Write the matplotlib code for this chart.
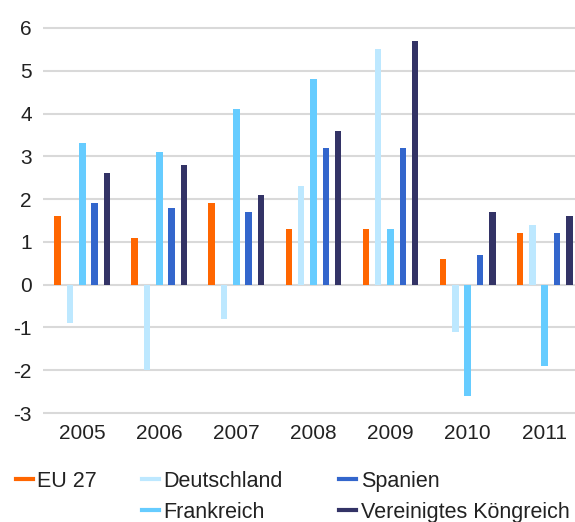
import numpy as np
import matplotlib.pyplot as plt
from matplotlib.lines import Line2D

plt.rcParams['font.family'] = ['Liberation Sans', 'DejaVu Sans']
plt.rcParams['axes.unicode_minus'] = False

years = ['2005', '2006', '2007', '2008', '2009', '2010', '2011']
eu27 = [1.6, 1.1, 1.9, 1.3, 1.3, 0.6, 1.2]
deutschland = [-0.9, -2.0, -0.8, 2.3, 5.5, -1.1, 1.4]
frankreich = [3.3, 3.1, 4.1, 4.8, 1.3, -2.6, -1.9]
spanien = [1.9, 1.8, 1.7, 3.2, 3.2, 0.7, 1.2]
uk = [2.6, 2.8, 2.1, 3.6, 5.7, 1.7, 1.6]

series = [
    ('EU 27', eu27, '#ff6600'),
    ('Deutschland', deutschland, '#bde8ff'),
    ('Frankreich', frankreich, '#66ccff'),
    ('Spanien', spanien, '#3366cc'),
    ('Vereinigtes Köngreich', uk, '#333366'),
]

fig = plt.figure(figsize=(5.75, 5.22), dpi=100)
ax = fig.add_axes([0.0748, 0.2006, 0.93, 0.754])

x = np.arange(len(years))
step = 0.16
width = 0.085
for k, (name, vals, col) in enumerate(series):
    ax.bar(x + (k - 2) * step, vals, width, color=col, zorder=3)

ax.set_xlim(-0.51, 6.43)
ax.set_ylim(-3.1, 6.1)
ax.set_yticks(range(-3, 7))
ax.set_xticks(x)
ax.set_xticklabels(years)
ax.yaxis.grid(True, color='#d9d9d9', linewidth=1.5, zorder=0)
ax.tick_params(length=0, labelsize=15, colors='#222222')
ax.tick_params(axis='y', pad=8)
ax.tick_params(axis='x', pad=5)
for s in ax.spines.values():
    s.set_visible(False)

# legend: three columns placed by hand
cols = [
    (0.027, ['EU 27']),
    (0.247, ['Deutschland', 'Frankreich']),
    (0.590, ['Spanien', 'Vereinigtes Köngreich']),
]
colour = {name: col for name, _, col in series}
for xpos, names in cols:
    handles = [Line2D([], [], color=colour[n], linewidth=3) for n in names]
    leg = fig.legend(handles, names, loc='upper left',
                     bbox_to_anchor=(xpos, 0.098), frameon=False, fontsize=15.5,
                     handlelength=0.8, handletextpad=0.2,
                     labelspacing=0.45, borderaxespad=0, borderpad=0)
    for t in leg.get_texts():
        t.set_color('#222222')

fig.savefig('out.png', dpi=100)
